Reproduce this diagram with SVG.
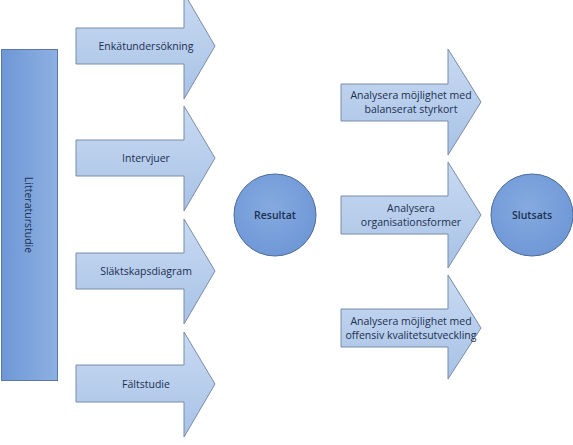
<svg xmlns="http://www.w3.org/2000/svg" width="573" height="445" viewBox="0 0 573 445">
<defs>
<linearGradient id="ga" x1="0" y1="0" x2="0" y2="1">
<stop offset="0" stop-color="#c8daf2"/>
<stop offset="1" stop-color="#a8c2e6"/>
</linearGradient>
<linearGradient id="gr" x1="0" y1="0" x2="1" y2="0">
<stop offset="0" stop-color="#6d98d6"/>
<stop offset="1" stop-color="#8eb0e2"/>
</linearGradient>
<radialGradient id="gc" cx="0.45" cy="0.4" r="0.6">
<stop offset="0" stop-color="#85aae0"/>
<stop offset="1" stop-color="#6f98d6"/>
</radialGradient>
</defs>
<style>
.arr{fill:url(#ga);stroke:#7a8ca6;stroke-width:1}
.rect{fill:url(#gr);stroke:#5a79a8;stroke-width:1}
.circ{fill:url(#gc);stroke:#4d6b99;stroke-width:1}
text{font-family:"Open Sans","Liberation Sans",sans-serif;font-size:10.5px;fill:#1c3050;text-anchor:middle;dominant-baseline:central}
.b{font-weight:600}
</style>
<rect width="573" height="445" fill="#ffffff"/>
<g id="litteraturstudie">
<rect class="rect" x="1.5" y="49.5" width="56" height="331"/>
<text transform="translate(29,215) rotate(90)">Litteraturstudie</text>
</g>
<g id="enkat">
<polygon class="arr" points="76,28 184,28 184,-7 215,46 184,99 184,64 76,64"/>
<text x="146" y="46">Enkätundersökning</text>
</g>
<g id="intervjuer">
<polygon class="arr" points="76,140 184,140 184,106 215,158 184,211 184,176 76,176"/>
<text x="146" y="158">Intervjuer</text>
</g>
<g id="slakt">
<polygon class="arr" points="76,253 184,253 184,219 215,271 184,324 184,289 76,289"/>
<text x="146" y="271">Släktskapsdiagram</text>
</g>
<g id="faltstudie">
<polygon class="arr" points="76,365 184,365 184,332 215,384 184,437 184,402 76,402"/>
<text x="146" y="384">Fältstudie</text>
</g>
<g id="resultat">
<circle class="circ" cx="275" cy="215" r="41"/>
<text class="b" x="275" y="215">Resultat</text>
</g>
<g id="balanserat">
<polygon class="arr" points="341,84 448,84 448,49 481,102 448,155 448,121 341,121"/>
<text x="411" y="95">Analysera möjlighet med</text>
<text x="411" y="109">balanserat styrkort</text>
</g>
<g id="organisation">
<polygon class="arr" points="341,196 448,196 448,162 481,215 448,268 448,234 341,234"/>
<text x="411" y="208">Analysera</text>
<text x="411" y="222">organisationsformer</text>
</g>
<g id="offensiv">
<polygon class="arr" points="341,309 448,309 448,275 481,328 448,379 448,347 341,347"/>
<text x="411" y="321">Analysera möjlighet med</text>
<text x="411" y="335">offensiv kvalitetsutveckling</text>
</g>
<g id="slutsats">
<circle class="circ" cx="532" cy="215" r="41"/>
<text class="b" x="532" y="215">Slutsats</text>
</g>
<g id="connectors"></g>
</svg>
